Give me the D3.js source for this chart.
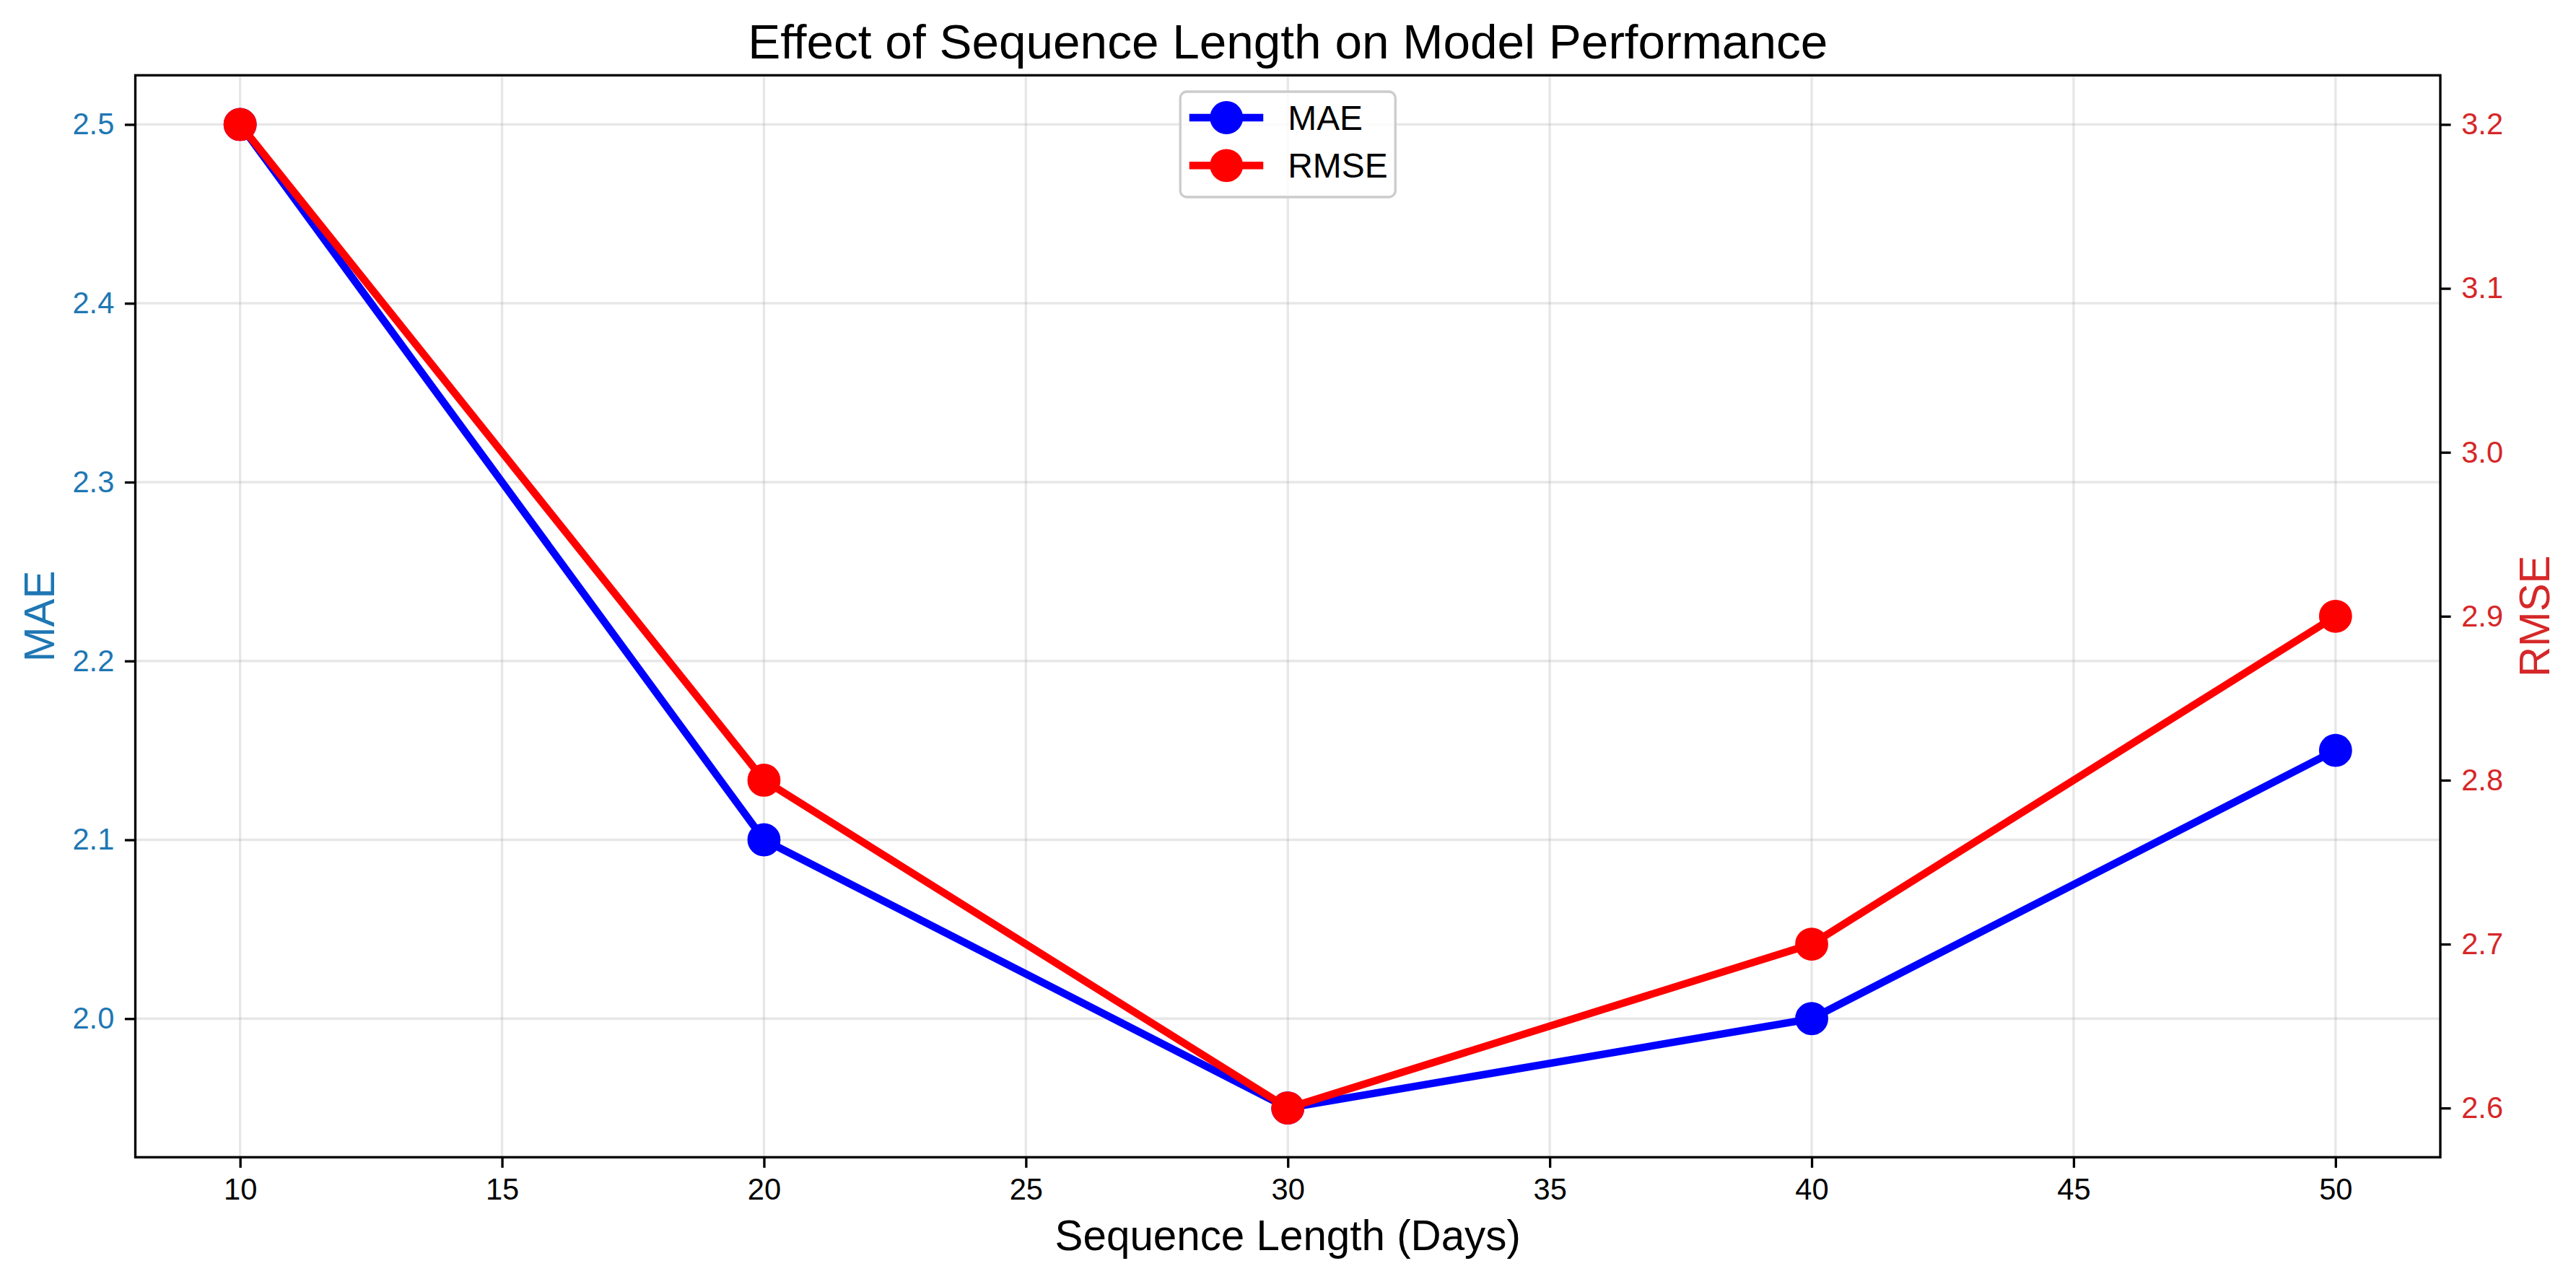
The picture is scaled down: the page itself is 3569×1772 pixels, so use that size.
<!DOCTYPE html>
<html>
<head>
<meta charset="utf-8">
<script src="https://cdn.jsdelivr.net/npm/d3@7"></script>
<style>
  body { margin: 0; background: #fff; }
  text { font-family: "Liberation Sans", Arial, sans-serif; }
</style>
</head>
<body>
<div id="chart"></div>
<script>
const width = 3569
const height = 1772

// data
const seqLength = [10, 20, 30, 40, 50]
const maeValues = [2.5, 2.1, 1.95, 2.0, 2.15]
const rmseValues = [3.2, 2.8, 2.6, 2.7, 2.9]
const seriesNames = ["MAE", "RMSE"]

const xTicks = [10, 15, 20, 25, 30, 35, 40, 45, 50]
const maeTicks = [2.0, 2.1, 2.2, 2.3, 2.4, 2.5]
const rmseTicks = [2.6, 2.7, 2.8, 2.9, 3.0, 3.1, 3.2]

const plot = {left: 187.5, right: 3381, top: 104.3, bottom: 1603.3}
const pt = 300 / 72
const tickFont = 10 * pt
const labelFont = 14 * pt

// matplotlib style 5% margins
const padded = (arr) => {
  const [lo, hi] = d3.extent(arr)
  const m = (hi - lo) * 0.05
  return [lo - m, hi + m]
}

const x = d3.scaleLinear().domain(padded(seqLength)).range([plot.left, plot.right])
const yMae = d3.scaleLinear().domain(padded(maeValues)).range([plot.bottom, plot.top])
const yRmse = d3.scaleLinear().domain(padded(rmseValues)).range([plot.bottom, plot.top])

const svg = d3.select("#chart")
  .append("svg")
  .attr("width", width)
  .attr("height", height)

svg.append("rect").attr("width", width).attr("height", height).attr("fill", "#fff")

// grid (from the left axis only)
const grid = svg.append("g").attr("class", "grid")
grid.selectAll("line.gx")
  .data(xTicks)
  .join("line")
    .attr("class", "gx")
    .attr("x1", d => x(d)).attr("x2", d => x(d))
    .attr("y1", plot.top).attr("y2", plot.bottom)
grid.selectAll("line.gy")
  .data(maeTicks)
  .join("line")
    .attr("class", "gy")
    .attr("x1", plot.left).attr("x2", plot.right)
    .attr("y1", d => yMae(d)).attr("y2", d => yMae(d))
grid.selectAll("line")
  .attr("stroke", "#b0b0b0")
  .attr("stroke-opacity", 0.3)
  .attr("stroke-width", 0.8 * pt)

// series
const drawSeries = (values, yScale, color) => {
  const pts = seqLength.map((s, i) => [s, values[i]])
  const line = d3.line().x(d => x(d[0])).y(d => yScale(d[1]))
  const g = svg.append("g")
  g.append("path")
    .datum(pts)
    .attr("d", line)
    .attr("fill", "none")
    .attr("stroke", color)
    .attr("stroke-width", 2.5 * pt)
    .attr("stroke-linejoin", "round")
  g.selectAll("circle")
    .data(pts)
    .join("circle")
      .attr("cx", d => x(d[0]))
      .attr("cy", d => yScale(d[1]))
      .attr("r", 5 * pt)
      .attr("fill", color)
      .attr("stroke", color)
      .attr("stroke-width", pt)
}
drawSeries(maeValues, yMae, "#0000ff")
drawSeries(rmseValues, yRmse, "#ff0000")

// axes
const styleAxis = (g, color) => {
  g.select(".domain").remove()
  g.selectAll(".tick line").attr("stroke", "#000").attr("stroke-width", 0.8 * pt)
  g.selectAll(".tick text")
    .attr("fill", color)
    .attr("font-size", tickFont)
    .attr("font-family", "'Liberation Sans', Arial, sans-serif")
}

svg.append("g")
  .attr("transform", `translate(0,${plot.bottom})`)
  .call(d3.axisBottom(x).tickValues(xTicks).tickSize(3.5 * pt).tickPadding(3.5 * pt).tickFormat(d3.format("d")))
  .call(g => styleAxis(g, "#000"))

svg.append("g")
  .attr("transform", `translate(${plot.left},0)`)
  .call(d3.axisLeft(yMae).tickValues(maeTicks).tickSize(3.5 * pt).tickPadding(3.5 * pt).tickFormat(d3.format(".1f")))
  .call(g => styleAxis(g, "#1f77b4"))

svg.append("g")
  .attr("transform", `translate(${plot.right},0)`)
  .call(d3.axisRight(yRmse).tickValues(rmseTicks).tickSize(3.5 * pt).tickPadding(3.5 * pt).tickFormat(d3.format(".1f")))
  .call(g => styleAxis(g, "#d62728"))

// spines
svg.append("rect")
  .attr("x", plot.left).attr("y", plot.top)
  .attr("width", plot.right - plot.left).attr("height", plot.bottom - plot.top)
  .attr("fill", "none")
  .attr("stroke", "#000")
  .attr("stroke-width", 0.8 * pt)

// legend, upper center
const cx = (plot.left + plot.right) / 2
const legend = svg.append("g").attr("transform", `translate(${cx - 149},127)`)
legend.append("rect")
  .attr("width", 298).attr("height", 146)
  .attr("rx", 9).attr("ry", 9)
  .attr("fill", "#fff").attr("fill-opacity", 0.8)
  .attr("stroke", "#cccccc").attr("stroke-width", 0.8 * pt)
const colors = ["#0000ff", "#ff0000"]
const rows = legend.selectAll("g.row")
  .data(seriesNames)
  .join("g")
    .attr("class", "row")
    .attr("transform", (d, i) => `translate(0,${36 + i * 66.3})`)
rows.append("line")
  .attr("x1", 12.5).attr("x2", 115)
  .attr("stroke", (d, i) => colors[i])
  .attr("stroke-width", 2.5 * pt)
rows.append("circle")
  .attr("cx", 64).attr("r", 5 * pt)
  .attr("fill", (d, i) => colors[i])
  .attr("stroke", (d, i) => colors[i])
  .attr("stroke-width", pt)
rows.append("text")
  .attr("x", 149)
  .attr("y", 17)
  .attr("font-size", 11.5 * pt)
  .attr("fill", "#000")
  .text(d => d)

// title and labels
svg.append("text")
  .attr("x", cx).attr("y", 81)
  .attr("text-anchor", "middle")
  .attr("font-size", 16.2 * pt)
  .text("Effect of Sequence Length on Model Performance")

svg.append("text")
  .attr("x", cx).attr("y", 1731.7)
  .attr("text-anchor", "middle")
  .attr("font-size", labelFont)
  .text("Sequence Length (Days)")

const midY = (plot.top + plot.bottom) / 2
svg.append("text")
  .attr("transform", `translate(75,${midY}) rotate(-90)`)
  .attr("text-anchor", "middle")
  .attr("font-size", labelFont)
  .attr("fill", "#1f77b4")
  .text("MAE")

svg.append("text")
  .attr("transform", `translate(3531.6,${midY}) rotate(-90)`)
  .attr("text-anchor", "middle")
  .attr("font-size", labelFont)
  .attr("fill", "#d62728")
  .text("RMSE")
</script>
</body>
</html>
